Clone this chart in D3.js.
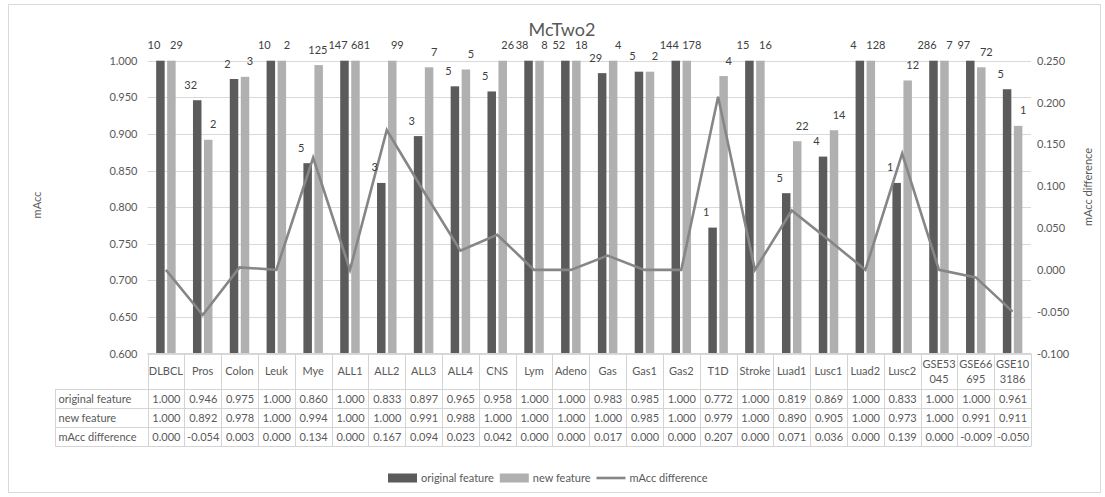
<!DOCTYPE html>
<html>
<head>
<meta charset="utf-8">
<script src="https://cdn.jsdelivr.net/npm/d3@7"></script>
<style>
  html, body { margin: 0; padding: 0; background: #ffffff; }
  svg { display: block; font-family: Lato, "Open Sans", sans-serif; }
</style>
</head>
<body>
<svg id="chart" width="1105" height="497"></svg>
<script>
// Datasets along the category axis
const categories = ["DLBCL","Pros","Colon","Leuk","Mye","ALL1","ALL2","ALL3","ALL4","CNS","Lym","Adeno","Gas","Gas1","Gas2","T1D","Stroke","Luad1","Lusc1","Luad2","Lusc2","GSE53045","GSE66695","GSE103186"];
// Header text as it wraps inside the table cells
const headerLines = [["DLBCL"],["Pros"],["Colon"],["Leuk"],["Mye"],["ALL1"],["ALL2"],["ALL3"],["ALL4"],["CNS"],["Lym"],["Adeno"],["Gas"],["Gas1"],["Gas2"],["T1D"],["Stroke"],["Luad1"],["Lusc1"],["Luad2"],["Lusc2"],["GSE53","045"],["GSE66","695"],["GSE10","3186"]];

// mAcc with the original features
const originalFeature = [1.000,0.946,0.975,1.000,0.860,1.000,0.833,0.897,0.965,0.958,1.000,1.000,0.983,0.985,1.000,0.772,1.000,0.819,0.869,1.000,0.833,1.000,1.000,0.961];
// mAcc with the new features
const newFeature = [1.000,0.892,0.978,1.000,0.994,1.000,1.000,0.991,0.988,1.000,1.000,1.000,1.000,0.985,1.000,0.979,1.000,0.890,0.905,1.000,0.973,1.000,0.991,0.911];
// new minus original
const mAccDifference = [0.000,-0.054,0.003,0.000,0.134,0.000,0.167,0.094,0.023,0.042,0.000,0.000,0.017,0.000,0.000,0.207,0.000,0.071,0.036,0.000,0.139,0.000,-0.009,-0.050];

// Number of selected features, shown above each bar
const originalCounts = ["10","32","2","10","5","147","3","3","5","5","38","52","29","5","144","1","15","5","4","4","1","286","97","5"];
const newCounts = ["29","2","3","2","125","681","99","7","5","26","8","18","4","2","178","4","16","22","14","128","12","7","72","1"];

// Axis ticks
const leftTicks = [0.600,0.650,0.700,0.750,0.800,0.850,0.900,0.950,1.000];
const rightTicks = [-0.100,-0.050,0.000,0.050,0.100,0.150,0.200,0.250];

const seriesNames = ["original feature","new feature","mAcc difference"];

// three decimals with a plain hyphen for negatives
const fmt3 = v => d3.format(".3f")(v).replace("\u2212", "-");

const svg = d3.select("#chart");
const plot = { left: 147.5, right: 1031, top: 60.7, bottom: 353.5 };
const colors = { orig: "#5b5b5b", neu: "#b0b0b0", line: "#868686", text: "#595959", grid: "#d9d9d9" };
const fontSize = 11;

// Chart border
svg.append("rect")
  .attr("x", 8.5).attr("y", 4.5).attr("width", 1092).attr("height", 488)
  .attr("fill", "none").attr("stroke", colors.grid).attr("stroke-width", 1);

const x = d3.scaleBand().domain(categories).range([plot.left, plot.right]).paddingInner(0).paddingOuter(0);
const yL = d3.scaleLinear().domain([0.6, 1.0]).range([plot.bottom, plot.top]);
const yR = d3.scaleLinear().domain([-0.1, 0.25]).range([plot.bottom, plot.top]);

// Gridlines
svg.append("g").selectAll("line").data(leftTicks).join("line")
  .attr("x1", plot.left).attr("x2", plot.right)
  .attr("y1", d => Math.round(yL(d)) + 0.5).attr("y2", d => Math.round(yL(d)) + 0.5)
  .attr("stroke", colors.grid).attr("stroke-width", 1);

// Left axis
const leftAxis = svg.append("g")
  .attr("transform", `translate(${plot.left},0)`)
  .call(d3.axisLeft(yL).tickValues(leftTicks).tickFormat(fmt3).tickSize(0).tickPadding(10));
leftAxis.select(".domain").remove();
leftAxis.selectAll("text").attr("fill", colors.text).style("font-size", fontSize + "px").style("font-family", "Lato");

// Right axis
const rightAxis = svg.append("g")
  .attr("transform", `translate(${plot.right},0)`)
  .call(d3.axisRight(yR).tickValues(rightTicks).tickFormat(fmt3).tickSize(0).tickPadding(6));
rightAxis.select(".domain").remove();
rightAxis.selectAll("text").attr("fill", colors.text).style("font-size", fontSize + "px").style("font-family", "Lato");

// Axis titles
svg.append("text")
  .attr("transform", "translate(41,205) rotate(-90)")
  .attr("text-anchor", "middle").attr("fill", colors.text)
  .style("font-size", fontSize + "px").text("mAcc");
svg.append("text")
  .attr("transform", "translate(1092,187) rotate(-90)")
  .attr("text-anchor", "middle").attr("fill", colors.text)
  .style("font-size", fontSize + "px").text("mAcc difference");

// Chart title
svg.append("text")
  .attr("x", 562).attr("y", 36).attr("text-anchor", "middle")
  .attr("fill", colors.text).style("font-size", "18px").text("McTwo2");

// Bars
const barW = 8.5, barGap = 2.5;
const bw = x.bandwidth();
const center = c => x(c) + bw / 2;
const origX = c => center(c) - barGap / 2 - barW;
const newX = c => center(c) + barGap / 2;

svg.append("g").selectAll("rect").data(categories).join("rect")
  .attr("x", c => origX(c)).attr("width", barW)
  .attr("y", (c, i) => yL(originalFeature[i]))
  .attr("height", (c, i) => plot.bottom - yL(originalFeature[i]))
  .attr("fill", colors.orig);

svg.append("g").selectAll("rect").data(categories).join("rect")
  .attr("x", c => newX(c)).attr("width", barW)
  .attr("y", (c, i) => yL(newFeature[i]))
  .attr("height", (c, i) => plot.bottom - yL(newFeature[i]))
  .attr("fill", colors.neu);

// Difference line
const line = d3.line().x((d, i) => center(categories[i])).y(d => yR(d));
svg.append("path").datum(mAccDifference)
  .attr("d", line).attr("fill", "none")
  .attr("stroke", colors.line).attr("stroke-width", 2.6).attr("stroke-linejoin", "miter");

// Bar labels (feature counts)
const labels = [];
categories.forEach((c, i) => {
  labels.push({ text: originalCounts[i], cx: origX(c) + barW / 2 - 6.5, y: yL(originalFeature[i]) - 11.5 });
  labels.push({ text: newCounts[i], cx: newX(c) + barW / 2 + 5, y: yL(newFeature[i]) - 11.5 });
});
const labelG = svg.append("g");
const labelNodes = labelG.selectAll("text").data(labels).join("text")
  .attr("x", d => d.cx).attr("y", d => d.y)
  .attr("text-anchor", "middle").attr("fill", "#404040")
  .style("font-size", fontSize + "px").text(d => d.text);

// Nudge overlapping labels that share a row leftwards
labelNodes.each(function (d) { d.w = this.getComputedTextLength(); });
for (let k = labels.length - 2; k >= 0; k--) {
  const a = labels[k], b = labels[k + 1];
  if (Math.abs(a.y - b.y) < 8) {
    const aRight = a.cx + a.w / 2, bLeft = b.cx - b.w / 2;
    if (aRight > bLeft - 1) a.cx -= (aRight - bLeft + 1);
  }
}
labelNodes.attr("x", d => d.cx);

// Data table
const table = { headTop: plot.bottom, headBottom: 389, rowH: 19, labelLeft: 55.5 };
const tg = svg.append("g");
const rows = [originalFeature, newFeature, mAccDifference];
const tableBottom = table.headBottom + rows.length * table.rowH;
const gridStroke = "#d4d4d4";

// horizontal rules
tg.append("line").attr("x1", plot.left).attr("x2", plot.right)
  .attr("y1", table.headTop).attr("y2", table.headTop).attr("stroke", gridStroke);
for (let r = 0; r <= rows.length; r++) {
  const yy = table.headBottom + r * table.rowH + 0.5;
  tg.append("line").attr("x1", table.labelLeft).attr("x2", plot.right)
    .attr("y1", yy).attr("y2", yy).attr("stroke", gridStroke);
}
// vertical rules
tg.append("line").attr("x1", table.labelLeft).attr("x2", table.labelLeft)
  .attr("y1", table.headBottom).attr("y2", tableBottom + 0.5).attr("stroke", gridStroke);
categories.concat(["_end"]).forEach((c, i) => {
  const xx = Math.round(plot.left + i * bw) + 0.5;
  tg.append("line").attr("x1", xx).attr("x2", xx)
    .attr("y1", table.headTop).attr("y2", tableBottom + 0.5).attr("stroke", gridStroke);
});

// header cells
categories.forEach((c, i) => {
  const lines = headerLines[i];
  const t = tg.append("text").attr("text-anchor", "middle").attr("fill", colors.text)
    .style("font-size", fontSize + "px");
  const mid = (table.headTop + table.headBottom) / 2;
  lines.forEach((ln, j) => {
    const yy = mid + 4 + (j - (lines.length - 1) / 2) * 15;
    t.append("tspan").attr("x", center(c)).attr("y", yy).text(ln);
  });
});

// row labels and values
rows.forEach((vals, r) => {
  const yy = table.headBottom + r * table.rowH + table.rowH / 2 + 4.5;
  tg.append("text").attr("x", table.labelLeft + 3).attr("y", yy)
    .attr("fill", colors.text).style("font-size", fontSize + "px").text(seriesNames[r]);
  vals.forEach((v, i) => {
    tg.append("text").attr("x", center(categories[i]) + 0.5).attr("y", yy)
      .attr("text-anchor", "middle").attr("fill", colors.text)
      .style("font-size", fontSize + "px").text(fmt3(v));
  });
});

// Legend
const legend = svg.append("g");
let lx = 388;
const ly = 478;
seriesNames.forEach((name, i) => {
  if (i < 2) {
    legend.append("rect").attr("x", lx).attr("y", ly - 4.5).attr("width", 29).attr("height", 9)
      .attr("fill", i === 0 ? colors.orig : colors.neu);
  } else {
    legend.append("line").attr("x1", lx).attr("x2", lx + 29).attr("y1", ly).attr("y2", ly)
      .attr("stroke", colors.line).attr("stroke-width", 2.6);
  }
  const t = legend.append("text").attr("x", lx + 33).attr("y", ly + 4)
    .attr("fill", colors.text).style("font-size", fontSize + "px").text(name);
  lx += 33 + t.node().getComputedTextLength() + 6;
});
</script>
</body>
</html>
